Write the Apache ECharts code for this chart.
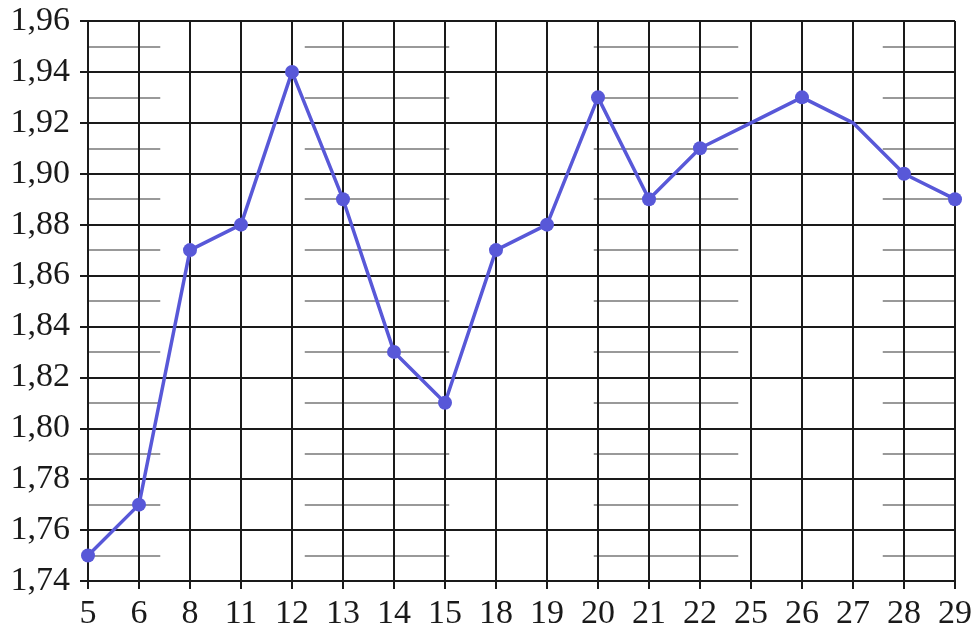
<!DOCTYPE html>
<html>
<head>
<meta charset="utf-8">
<script src="https://cdn.jsdelivr.net/npm/echarts@6/dist/echarts.min.js"></script>
<style>html,body{margin:0;padding:0;background:#fff}#c{width:976px;height:638px}</style>
</head>
<body>
<div id="c"></div>
<script>
const categories = ['5','6','8','11','12','13','14','15','18','19','20','21','22','25','26','27','28','29'];
const values = [1.75,1.77,1.87,1.88,1.94,1.89,1.83,1.81,1.87,1.88,1.93,1.89,1.91,1.92,1.93,1.92,1.90,1.89];
const hasMarker = [true,true,true,true,true,true,true,true,true,true,true,true,true,false,true,false,true,true];
const yMin = 1.74, yMax = 1.96, yStep = 0.02;

const chart = echarts.init(document.getElementById('c'));
const font = '"Liberation Serif", "DejaVu Serif", serif';
const dark = '#1a1a1a';
chart.setOption({
  animation: false,
  grid: {left: 88, right: 21, top: 21, bottom: 57, containLabel: false},
  xAxis: {
    type: 'category',
    data: categories,
    boundaryGap: false,
    axisLine: {show: true, lineStyle: {color: dark, width: 2}},
    axisTick: {show: true, length: 8, lineStyle: {color: dark, width: 2}},
    axisLabel: {color: dark, fontFamily: font, fontSize: 34, margin: 16},
    splitLine: {show: true, lineStyle: {color: dark, width: 2}}
  },
  yAxis: {
    type: 'value',
    min: yMin, max: yMax, interval: yStep,
    axisLine: {show: true, lineStyle: {color: dark, width: 2}},
    axisTick: {show: true, length: 8, lineStyle: {color: dark, width: 2}},
    axisLabel: {color: dark, fontFamily: font, fontSize: 34, margin: 18,
      formatter: v => v.toFixed(2).replace('.', ',')},
    splitLine: {show: true, lineStyle: {color: dark, width: 2}},
    minorTick: {show: false, splitNumber: 2},
    minorSplitLine: {show: true, lineStyle: {color: '#999999', width: 2, type: [144.5, 144.5], dashOffset: 72.25}}
  },
  series: [{
    type: 'line',
    data: values.map((v, i) => ({value: v, symbol: hasMarker[i] ? 'circle' : 'none'})),
    symbol: 'circle',
    symbolSize: 14,
    showAllSymbol: true,
    lineStyle: {color: '#5858d8', width: 3.5},
    itemStyle: {color: '#5858d8'},
    z: 5
  }]
});
</script>
</body>
</html>
